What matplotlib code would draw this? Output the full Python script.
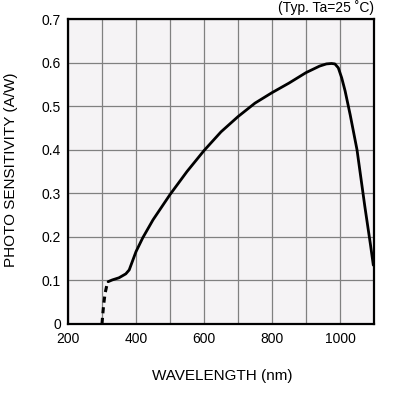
import matplotlib
matplotlib.use("Agg")
import matplotlib.pyplot as plt

plt.rcParams['font.family'] = ['Liberation Sans', 'DejaVu Sans']

# dashed low-UV part
wl_dash = [300, 302, 305, 309, 314, 318]
sens_dash = [0.0, 0.02, 0.045, 0.07, 0.088, 0.097]

# main curve
wl = [318, 330, 350, 370, 380, 390, 400, 420, 450, 500, 550, 600, 650, 700,
      750, 800, 850, 900, 940, 960, 975, 985, 995, 1005, 1015, 1030, 1050,
      1073, 1090, 1098]
sens = [0.097, 0.101, 0.106, 0.115, 0.124, 0.145, 0.166, 0.198, 0.239, 0.297,
        0.35, 0.398, 0.441, 0.476, 0.507, 0.531, 0.553, 0.577, 0.592, 0.597,
        0.598, 0.597, 0.588, 0.565, 0.535, 0.48, 0.40, 0.27, 0.18, 0.135]

xticks = [200, 400, 600, 800, 1000]
yticks = [0, 0.1, 0.2, 0.3, 0.4, 0.5, 0.6, 0.7]
ytick_labels = ["0", "0.1", "0.2", "0.3", "0.4", "0.5", "0.6", "0.7"]

fig = plt.figure(figsize=(4.0, 3.97), dpi=100)
ax = fig.add_axes([0.17, 0.184, 0.765, 0.768])
ax.set_facecolor("#f5f3f5")

ax.plot(wl_dash, sens_dash, color="black", lw=2.2, ls=(0, (2, 1.5)))
ax.plot(wl, sens, color="black", lw=2.0, solid_capstyle="round")

ax.set_xlim(200, 1100)
ax.set_ylim(0, 0.7)
ax.set_xticks(range(200, 1101, 100))
ax.set_xticklabels([str(v) if v in xticks else "" for v in range(200, 1101, 100)])
ax.set_yticks(yticks)
ax.set_yticklabels(ytick_labels)
ax.tick_params(length=0, labelsize=10)
ax.tick_params(axis="x", pad=6)
ax.tick_params(axis="y", pad=5)
ax.grid(True, color="#808080", lw=0.9)
ax.set_axisbelow(True)
for s in ax.spines.values():
    s.set_linewidth(1.6)

fig.text(222 / 400, 1 - 376 / 397, "WAVELENGTH (nm)", fontsize=11,
         ha="center", va="center")
fig.text(11 / 400, 1 - 170 / 397, "PHOTO SENSITIVITY (A/W)", fontsize=11,
         ha="center", va="center", rotation=90)
ax.text(1.0, 1.012, "(Typ. Ta=25 ˚C)", transform=ax.transAxes,
        ha="right", va="bottom", fontsize=10)

fig.savefig("out.png", dpi=100)
